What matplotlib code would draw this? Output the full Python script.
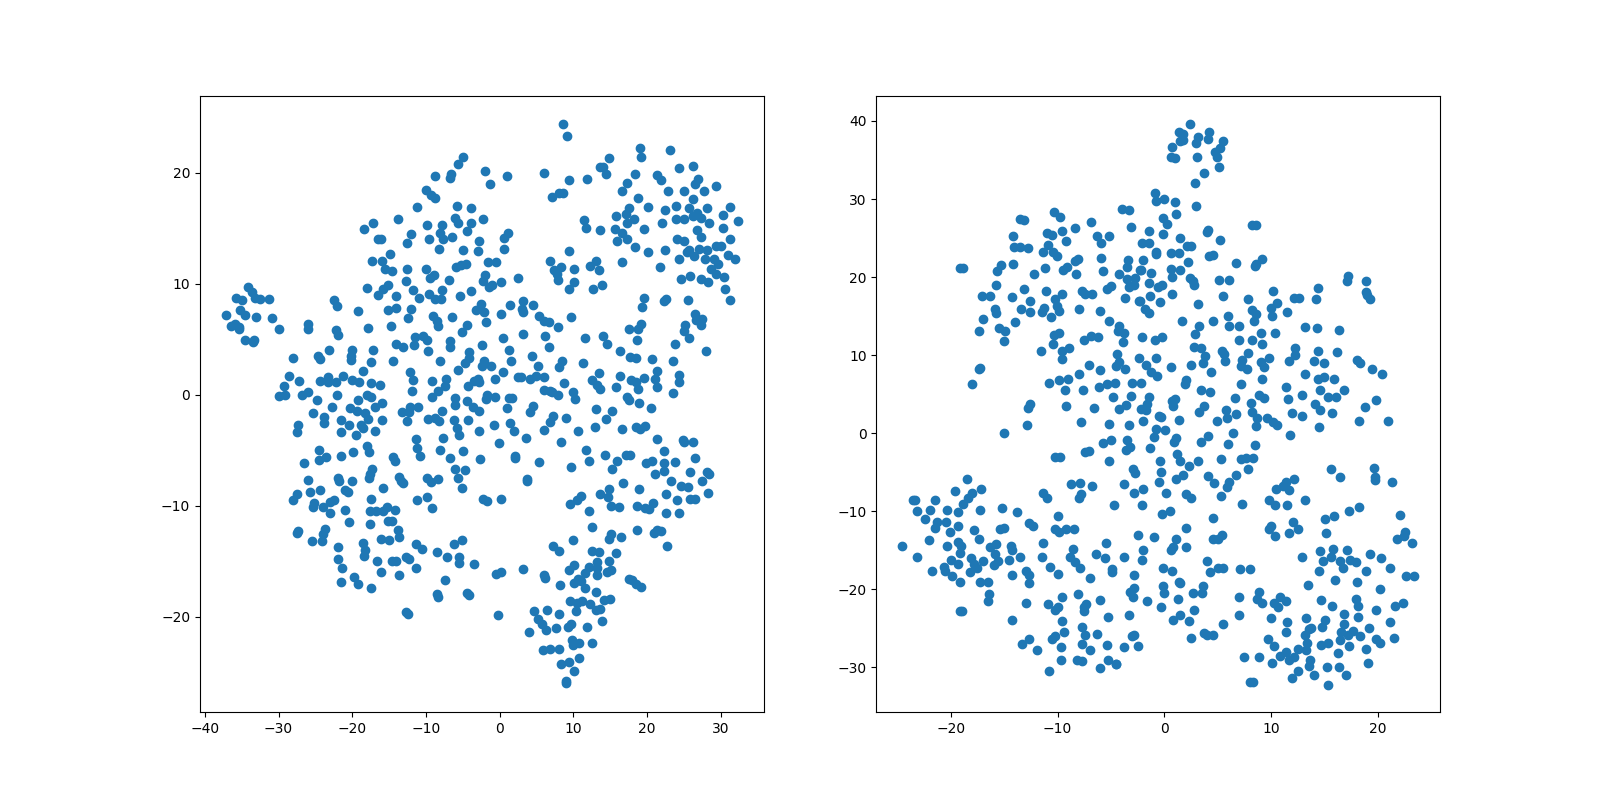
import numpy as np
import matplotlib
matplotlib.use('Agg')
import matplotlib.pyplot as plt

# values, (x, y) in data units
left_upper = [
(-5.0,21.4),(-5.6,20.8),(-8.8,19.7),(-6.6,19.9),(-6.7,19.5),(-10.0,18.4),(-9.3,18.0),(-8.8,17.7),(-11.2,16.9),(-5.8,17.0),
(-3.9,16.8),(-13.8,15.8),(-17.2,15.5),(-18.4,14.9),(-9.9,15.3),(-7.8,15.3),(-6.1,15.9),(-5.6,15.5),(-3.9,15.5),(-4.4,14.7),
(-8.1,14.6),(-12.0,14.5),(-6.5,14.2),(-9.6,14.0),(-7.7,14.0),(-16.5,14.0),(-16.1,14.0),(-12.6,13.7),(-8.2,13.1),(-5.0,13.0),
(-14.9,12.7),(-17.3,12.0),(-16.0,12.0),(-5.9,11.5),(-5.2,11.7),(-4.6,11.8),(-12.6,11.3),(-10.0,11.3),(-15.5,11.3),(-14.6,11.1),
(-8.9,10.8),(-9.4,10.5),(-6.9,10.3),(-12.7,10.2),(-15.1,9.9),(-15.8,9.5),(-18.0,9.6),(-11.7,9.4),(-7.8,9.4),(-9.6,9.1),
(-3.9,9.3),(-5.4,8.9),(-16.5,9.0),(-14.0,8.9),(-10.9,8.7),(-8.8,8.6),(-8.0,8.6),(-34.2,9.7),(-33.6,9.2),(-35.7,8.7),
(-34.9,8.5),(-33.2,8.7),(-32.5,8.6),(-31.3,8.6),(-35.2,7.6),(-34.6,7.2),(-37.1,7.2),(-33.0,7.0),(-30.9,6.9),(-36.4,6.2),
(-35.9,6.4),(-35.3,6.1),(-35.3,5.9),(-30.0,5.9),(-34.6,4.9),(-33.3,4.9),(-33.4,4.7),(-22.5,8.5),(-22.0,8.0),(-19.2,7.5),
(-15.1,7.6),(-14.0,7.8),(-12.0,7.7),(-12.4,6.9),(-9.0,7.1),(-6.5,7.0),(-3.2,7.6),(-8.5,6.6),(-8.4,6.2),(-4.4,6.3),
(-14.7,6.2),(-26.0,6.4),(-26.0,5.9),(-17.8,6.0),(-22.2,5.8),(-21.9,5.4),(-5.1,5.6),(-11.5,5.2),(-10.4,5.3),(-9.9,4.9),
(-11.6,4.5),(-14.0,4.6),(-13.1,4.3),(-6.7,4.8),(-6.7,4.3),(-9.7,3.9),(-23.1,4.0),(-24.6,3.5),(-24.4,3.2),(-28.0,3.3),
(-20.1,4.0),(-17.2,4.0),(-20.2,3.5),(-20.2,3.1),(-4.2,3.8),(-4.2,3.3),(-14.5,3.0),(-8.1,3.0),(-17.4,2.9),(-4.7,2.8),
(-5.7,2.2),(-12.2,2.0),(-18.5,2.1),(-28.6,1.7),(-21.2,1.7),(-23.3,1.6),(-7.3,1.4),(-11.7,1.3),(-27.2,1.2),(-24.4,1.2),
(-23.3,1.1),(-22.2,1.1),(-20.0,1.3),(-19.1,1.1),(-17.4,1.0),(-16.2,0.9),(-9.2,1.2),(-29.2,0.8),(-4.3,0.8),(-7.4,0.8),(-3.5,1.2),
(8.6,24.4),(9.1,23.3),(-2.0,20.1),(1.0,19.7),(-1.3,19.0),(6.0,20.0),(9.4,19.3),(11.8,19.4),(7.1,17.8),(8.0,18.2),
(8.6,18.2),(14.8,21.3),(13.6,20.5),(14.0,20.5),(14.4,19.9),(19.0,22.2),(19.1,21.4),(23.1,22.0),(24.3,20.4),(26.2,20.6),
(18.3,19.9),(17.2,19.1),(16.6,18.3),(21.3,19.8),(21.9,19.3),(22.8,18.3),(25.0,18.3),(26.9,19.4),(26.5,19.0),(27.7,18.3),
(29.4,18.8),(18.7,17.7),(20.1,16.9),(26.2,17.6),(23.9,17.0),(22.4,16.6),(28.1,16.8),(31.2,16.9),(25.7,16.8),(17.5,16.8),
(15.8,16.1),(17.1,16.3),(30.3,16.2),(32.3,15.6),(26.2,16.1),(26.7,16.4),(27.3,15.9),(28.4,15.5),(23.9,15.8),(25.0,15.8),
(22.0,15.5),(18.2,15.8),(17.2,15.5),(-2.3,15.8),(11.4,15.7),(11.7,15.0),(13.6,14.8),(15.6,14.9),(16.6,14.6),(19.6,14.9),
(30.3,15.0),(26.7,14.8),(27.3,14.2),(31.3,14.0),(24.0,14.0),(25.0,13.8),(1.1,14.6),(0.6,14.1),(-2.8,13.8),(-2.9,12.9),
(0.6,13.1),(15.9,13.8),(17.2,14.0),(18.3,13.3),(20.1,12.8),(22.4,13.0),(9.4,12.9),(6.8,12.0),(-1.6,11.9),(-0.5,11.9),
(16.6,11.9),(25.7,13.0),(25.4,12.8),(26.3,12.5),(27.1,13.1),(28.1,13.0),(29.3,13.4),(30.0,13.4),(31.0,12.6),(31.9,12.2),
(24.3,12.2),(27.8,12.2),(29.0,12.2),(29.6,11.8),(28.6,11.3),(29.3,10.9),(30.4,10.6),(25.8,10.7),(24.6,10.4),(27.3,10.4),
(28.2,10.1),(30.5,9.5),(31.3,8.5),(21.7,11.5),(13.0,12.0),(12.2,11.6),(13.5,11.2),(8.3,11.5),(7.4,11.2),(7.8,10.9),
(10.1,11.3),(7.9,10.3),(10.1,10.1),(9.4,9.5),(12.6,9.5),(13.9,9.9),(-2.0,10.8),(-2.3,10.2),(-1.0,9.9),(-1.5,9.7),
(0.2,10.1),(2.5,10.5),(-2.5,8.2),(1.4,8.1),(3.2,8.4),(4.5,8.1),(-2.1,7.4),(0.2,7.3),(3.0,7.7),(3.2,7.4),
(5.3,7.1),(-1.9,6.5),(6.0,6.6),(6.7,6.5),(7.9,6.1),(9.7,7.0),(19.6,8.7),(22.5,8.6),(22.3,8.4),(19.3,7.9),
(25.5,8.5),(26.5,7.3),(27.4,6.8),(26.6,6.7),(27.3,6.3),(25.2,6.3),(19.1,6.4),(17.5,5.9),(18.7,5.9),(25.0,5.7),
(25.7,5.1),(3.2,5.5),(6.1,5.3),(0.4,5.1),(11.6,5.1),(14.0,5.3),(14.5,4.6),(18.6,4.9),(23.8,4.6),(-2.4,4.5),
(6.7,4.3),(1.3,4.0),(16.3,3.9),(28.0,3.9),(4.4,3.5),(17.7,3.4),(18.5,3.3),(20.6,3.2),(-2.1,3.0),(1.5,3.0),
(8.4,3.0),(23.5,3.0),(11.3,2.8),(-2.4,2.6),(-1.2,2.6),(5.2,2.6),(8.0,2.5),(13.5,1.9),(0.4,2.0),(21.3,2.1),
(24.3,1.8),(2.5,1.6),(2.9,1.6),(4.9,1.7),(6.0,1.6),(4.1,1.4),(16.3,1.7),(21.0,1.4),(19.6,1.5),(-0.6,1.4),
(12.5,1.3),(17.8,1.3),(-3.0,1.4),(-2.8,1.1),(8.7,1.0),(18.5,1.1),(24.3,1.1),(13.2,0.9),(15.8,0.7),(21.4,0.7),
(13.6,0.5),(18.7,0.5),(6.0,0.4),(6.8,0.3),
]
left_lower = [
(-30.0,-0.1),(-29.1,0.0),(-26.8,0.0),(-26.0,0.2),(-22.0,0.0),(-18.0,0.0),(-17.4,-0.2),(-11.9,0.3),(-9.2,-0.2),(-8.4,0.3),
(-6.1,-0.3),(-6.1,-0.9),(-4.4,-0.6),(-3.6,-1.1),(-24.8,-0.5),(-19.2,-0.5),(-16.0,-0.8),(-16.9,-1.1),(-22.7,-1.1),(-20.3,-1.2),
(-19.3,-1.5),(-18.3,-1.7),(-25.3,-1.7),(-23.8,-2.0),(-23.8,-2.6),(-27.3,-2.7),(-27.5,-3.4),(-21.5,-2.3),(-20.4,-2.7),(-17.8,-2.2),
(-16.0,-2.3),(-18.8,-2.7),(-18.5,-3.0),(-21.5,-3.4),(-19.5,-3.6),(-16.9,-3.3),(-13.2,-1.6),(-12.2,-1.1),(-12.3,-1.6),(-11.1,-1.1),
(-12.6,-2.4),(-9.7,-2.2),(-8.8,-2.1),(-8.2,-2.4),(-7.8,-1.5),(-6.2,-2.3),(-4.3,-2.3),(-5.8,-3.0),(-5.5,-3.6),(-11.3,-4.0),
(-11.2,-4.8),(-10.8,-5.5),(-7.7,-3.9),(-8.1,-5.0),(-5.0,-5.1),(-6.7,-5.7),(-18.0,-4.6),(-17.7,-5.2),(-24.5,-5.0),(-23.5,-5.6),
(-24.5,-5.9),(-21.5,-5.5),(-19.9,-5.2),(-26.5,-6.2),(-14.5,-5.6),(-14.2,-6.0),(-17.3,-6.7),(-6.1,-6.7),(-4.7,-6.8),(-17.6,-7.2),
(-17.7,-7.5),(-5.6,-7.5),(-13.6,-7.4),(-13.4,-7.8),(-13.1,-8.0),(-9.9,-7.5),(-9.3,-7.9),(-8.4,-7.6),(-26.0,-7.7),(-21.9,-7.5),
(-21.8,-7.8),(-20.0,-7.8),(-15.8,-8.4),(-5.1,-8.4),(-24.4,-8.6),(-25.7,-8.8),(-21.0,-8.6),(-20.6,-8.8),(-27.5,-9.0),(-28.0,-9.5),
(-17.4,-9.4),(-9.9,-9.2),(-11.2,-9.5),(-22.5,-9.5),(-23.0,-9.7),(-25.2,-9.8),(-25.3,-10.1),(-23.9,-10.1),(-9.2,-10.2),(-21.0,-10.4),
(-23.0,-10.7),(-17.6,-10.5),(-16.8,-10.5),(-15.8,-10.5),(-15.3,-10.1),(-14.2,-10.4),(-15.1,-11.4),(-14.6,-11.4),(-20.4,-11.5),(-17.6,-11.7),
(-13.8,-12.2),(-13.6,-12.8),(-27.3,-12.3),(-27.5,-12.5),(-23.7,-12.1),(-23.9,-12.6),(-24.1,-13.2),(-25.4,-13.2),(-16.1,-13.0),(-15.0,-13.1),
(-5.1,-13.1),(-6.2,-13.5),(-11.3,-13.5),(-10.5,-13.9),(-18.5,-13.4),(-21.9,-13.7),(-18.3,-14.0),(-18.4,-14.5),(-8.5,-14.2),(-7.1,-14.6),
(-5.5,-14.6),(-5.5,-15.2),(-12.7,-14.6),(-12.3,-14.8),(-21.9,-14.8),(-14.6,-15.0),(-14.1,-15.0),(-16.6,-15.0),(-3.5,-15.3),(-21.4,-15.6),
(-11.3,-15.6),(-16.1,-16.0),(-13.6,-16.3),(-19.7,-16.4),(-7.4,-16.7),(-21.5,-16.9),(-19.2,-17.1),(-17.4,-17.4),(-8.5,-18.0),(-8.4,-18.2),
(-4.4,-17.9),(-4.2,-18.1),(-12.7,-19.6),(-12.4,-19.8),
(-1.7,0.0),(-1.9,-0.4),(-0.6,-0.2),(1.3,-0.3),(1.7,-0.3),(7.1,0.2),(7.9,0.0),(9.9,0.2),(10.2,-0.4),(23.5,0.1),
(17.2,-0.2),(17.5,-0.5),(18.9,-0.8),(20.5,-1.2),(-2.8,-1.5),(4.5,-1.0),(4.1,-1.6),(1.0,-1.2),(7.2,-1.9),(6.8,-2.5),
(9.0,-2.1),(13.0,-1.3),(15.3,-1.5),(14.4,-2.2),(12.9,-2.9),(16.6,-3.1),(18.5,-2.9),(19.7,-2.8),(19.0,-3.1),(-0.8,-2.7),
(1.4,-2.6),(1.9,-3.3),(-2.8,-3.3),(6.0,-3.2),(10.6,-3.3),(3.6,-3.9),(-0.1,-4.4),(8.3,-4.3),(21.4,-4.0),(24.8,-4.1),
(25.0,-4.3),(26.2,-4.3),(11.7,-5.0),(22.3,-5.1),(14.3,-5.4),(17.1,-5.4),(17.7,-5.4),(2.1,-5.5),(2.1,-5.7),(-2.7,-5.8),
(5.3,-6.1),(12.1,-6.0),(15.9,-6.0),(20.6,-6.0),(19.8,-6.2),(22.3,-6.2),(23.8,-6.1),(26.5,-5.7),(9.7,-6.5),(15.3,-6.7),
(22.3,-6.9),(21.0,-7.2),(25.8,-7.0),(28.1,-7.0),(28.4,-7.2),(3.7,-7.6),(3.7,-7.8),(23.2,-7.8),(27.4,-7.8),(16.7,-8.0),
(24.6,-8.2),(25.5,-8.3),(14.8,-8.5),(18.9,-8.5),(22.5,-9.0),(28.2,-8.9),(11.0,-9.1),(13.6,-9.0),(14.7,-9.2),(10.5,-9.5),
(-2.3,-9.4),(-1.7,-9.6),(0.2,-9.4),(24.0,-9.5),(25.8,-9.4),(26.5,-9.4),(9.5,-9.9),(15.1,-10.0),(16.2,-10.1),(18.6,-10.0),
(20.8,-9.8),(19.7,-10.2),(20.2,-10.3),(12.1,-10.5),(22.5,-10.7),(24.3,-10.7),(12.5,-11.9),(18.6,-12.2),(21.4,-12.2),(21.9,-12.3),
(20.9,-12.5),(15.1,-12.6),(14.8,-13.0),(16.4,-12.8),(9.9,-13.1),(7.2,-13.6),(8.0,-14.1),(22.7,-13.6),(12.5,-14.1),(13.5,-14.2),
(15.8,-14.3),(14.8,-15.0),(13.2,-15.1),(12.1,-15.5),(10.1,-15.4),(9.4,-15.8),(13.2,-15.6),(0.2,-16.0),(-0.5,-16.2),(3.2,-15.7),
(6.0,-16.3),(6.1,-16.5),(8.2,-17.2),(11.6,-16.1),(15.1,-15.8),(14.5,-16.0),(13.2,-16.3),(10.6,-16.6),(10.1,-17.0),(11.0,-16.8),
(11.6,-17.4),(17.5,-16.6),(17.9,-16.7),(18.5,-17.1),(19.1,-17.3),(13.0,-17.8),(14.1,-18.5),(14.9,-18.4),(9.5,-18.6),(11.2,-18.6),
(10.5,-18.8),(12.2,-18.9),(13.6,-19.3),(13.0,-19.4),(10.3,-19.5),(-0.2,-19.9),(4.6,-19.5),(6.4,-19.4),(8.0,-19.8),(5.2,-20.2),
(13.9,-20.4),(5.7,-20.7),(6.3,-21.2),(7.6,-21.0),(9.3,-20.9),(9.7,-20.7),(11.8,-20.9),(4.0,-21.4),(9.8,-22.1),(10.7,-22.4),
(9.9,-22.6),(12.5,-22.4),(5.9,-23.0),(6.8,-22.9),(8.0,-22.9),(10.7,-23.7),(9.4,-24.1),(8.3,-24.3),(10.1,-24.9),(9.0,-25.8),(9.0,-26.0),
]
right_upper = [
(-10.3,28.3),(-9.8,27.7),(-13.5,27.4),(-13.2,27.3),(-6.9,27.0),(-4.0,28.7),(-3.3,28.6),(-3.1,26.4),(-8.4,26.3),(-9.6,25.9),
(-11.0,25.6),(-10.5,25.4),(-14.2,25.3),(-6.3,25.3),(-5.2,25.3),(-9.2,24.6),(-5.9,24.4),(-10.9,24.1),(-14.1,23.8),(-13.5,23.8),
(-12.8,23.7),(-11.4,23.2),(-10.4,23.2),(-10.1,22.7),(-5.9,22.4),(-8.1,22.3),(-8.4,22.1),(-3.4,22.2),(-14.2,21.7),(-15.3,21.5),
(-3.5,21.3),(-9.1,21.3),(-9.5,20.9),(-11.2,21.2),(-15.7,20.8),(-19.2,21.2),(-18.9,21.2),(-5.7,20.8),(-12.2,20.4),(-8.3,20.4),
(-4.2,20.4),(-2.3,20.9),(-3.5,19.7),(-2.7,19.9),(-15.8,19.0),(-3.3,18.7),(-2.8,19.0),(-5.0,18.8),(-5.4,18.5),(-13.2,18.5),
(-11.1,18.2),(-7.7,18.2),(-7.4,17.9),(-6.8,17.8),(-9.6,17.8),(-17.1,17.6),(-16.3,17.6),(-14.3,17.4),(-3.7,17.3),(-2.4,17.0),
(-10.2,17.2),(-12.6,17.0),(-10.1,16.3),(-11.3,16.0),(-15.9,15.9),(-13.4,15.9),(-8.0,15.9),(-15.8,15.4),(-11.5,15.5),(-12.6,15.5),
(-9.9,15.6),(-6.0,15.6),(-10.6,14.9),(-17.0,14.7),(-14.0,14.2),(-5.2,14.4),(-4.2,13.8),(-15.5,13.5),(-14.9,13.1),(-17.4,13.1),
(-4.3,13.1),(-3.8,12.8),(-9.9,12.8),(-10.3,12.6),(-6.9,12.4),(-6.2,12.3),(-7.5,11.9),(-15.0,11.8),(-3.9,11.7),(-10.4,11.4),
(-8.9,10.9),(-9.6,10.5),(-11.6,10.6),(-4.4,10.1),(-9.6,9.5),(-7.1,8.8),(-4.2,9.1),(-4.5,8.6),(-2.4,9.6),(-3.7,8.2),
(-6.0,8.1),(-17.4,8.2),(-17.3,8.3),(-8.0,7.6),(-9.0,7.0),(-9.9,6.8),(-10.8,6.4),(-4.6,6.4),(-5.4,6.3),(-3.0,6.4),
(-18.0,6.3),(-6.1,5.9),(-7.6,5.6),(-9.3,5.6),
(2.4,39.6),(1.4,38.6),(1.8,38.3),(4.2,38.6),(3.2,38.0),(4.1,37.7),(5.5,37.4),(1.8,37.6),(1.5,37.4),(3.0,37.2),
(5.2,36.5),(0.7,36.7),(4.8,36.0),(4.9,35.4),(3.1,35.4),(0.6,35.4),(1.0,35.3),(5.1,34.1),(3.7,33.3),(2.9,32.0),
(-0.9,30.8),(0.0,30.0),(-0.8,29.7),(1.0,29.6),(3.0,29.1),(1.1,28.1),(-0.1,27.6),(0.3,26.8),(-1.4,25.9),(8.2,26.7),
(8.6,26.7),(4.1,26.0),(4.0,25.8),(-0.1,25.5),(1.5,25.0),(5.2,24.7),(-2.1,24.4),(-1.4,24.4),(2.1,24.0),(2.5,24.0),
(-0.8,23.2),(-0.8,23.0),(0.6,23.1),(1.4,23.1),(4.2,22.7),(4.6,22.8),(-2.0,22.2),(2.2,22.0),(9.2,22.3),(8.6,21.7),
(8.5,21.4),(6.7,21.8),(-2.2,20.9),(0.6,21.0),(1.5,20.9),(-1.2,20.5),(0.7,20.0),(2.4,19.9),(2.7,19.5),(2.8,19.0),
(5.1,19.6),(6.1,19.6),(-1.4,19.2),(-0.2,19.0),(-0.6,18.7),(17.2,20.1),(17.1,19.5),(18.9,19.5),(18.9,18.1),(19.0,17.7),
(19.3,17.2),(14.4,18.6),(12.2,17.3),(12.6,17.3),(14.2,17.2),(10.2,18.2),(0.7,17.9),(5.5,17.6),(-1.3,17.6),(-2.3,17.0),
(-0.4,16.8),(7.9,17.2),(3.2,16.5),(10.6,16.7),(10.0,16.0),(8.2,15.8),(-1.8,15.9),(-1.4,15.4),(8.6,15.3),(11.5,15.5),
(10.1,15.0),(6.0,15.0),(1.7,14.4),(4.6,14.4),(8.4,14.4),(3.3,13.7),(6.1,13.7),(7.0,13.7),(13.2,13.6),(14.3,13.5),
(16.4,13.2),(9.1,12.9),(10.4,12.8),(2.9,12.7),(-2.1,12.3),(-0.9,12.0),(-0.2,12.3),(7.0,11.9),(8.2,12.0),(9.2,11.4),
(2.8,11.0),(3.4,10.9),(12.3,10.9),(14.4,10.6),(16.2,10.4),(5.4,10.5),(7.9,10.3),(5.6,10.1),(3.8,9.9),(12.3,10.0),
(9.8,9.6),(-0.8,9.7),(5.7,9.2),(9.1,9.1),(7.3,9.4),(11.7,9.2),(14.0,9.2),(15.0,9.0),(18.1,9.4),(18.4,9.0),
(3.6,9.0),(-1.7,8.7),(2.5,8.7),(0.6,8.5),(7.2,8.6),(9.4,8.5),(7.8,8.2),(19.5,8.2),(-1.2,7.8),(4.4,7.8),
(13.2,7.6),(20.4,7.6),(-0.7,7.3),(9.2,7.0),(15.0,7.2),(14.4,6.9),(15.9,6.9),(2.0,6.8),(1.9,6.3),(-2.2,6.4),
(7.2,6.3),(11.4,5.9),(14.6,5.6),(16.9,5.6),(3.4,5.6),(4.3,5.3),
]
right_lower = [
(-4.8,4.65),(-3.1,4.8),(-12.6,3.8),(-12.8,3.3),(-9.2,3.5),(-3.6,3.6),(-4.2,3.1),(-6.6,3.2),(-7.8,1.45),(-5.2,1.2),
(-3.3,1.1),(-12.9,1.1),(-15.0,0.0),(-3.5,-0.8),(-5.7,-1.3),(-5.0,-0.9),(-3.2,-1.7),(-3.6,-2.1),(-7.1,-2.3),(-7.4,-2.4),
(-9.8,-3.0),(-10.2,-3.1),(-5.2,-3.6),(-2.9,-4.6),(-2.7,-5.1),(-18.5,-5.9),(-8.7,-6.5),(-7.9,-6.4),(-6.8,-6.8),(-3.8,-6.5),
(-17.2,-7.2),(-19.6,-7.4),(-18.0,-7.6),(-11.4,-7.6),(-2.8,-7.6),(-7.8,-7.8),(-8.0,-8.3),(-11.0,-8.3),(-18.4,-8.3),(-18.9,-9.0),
(-23.6,-8.5),(-23.4,-8.6),(-21.5,-8.6),(-4.7,-9.2),(-22.0,-9.8),(-20.4,-9.8),(-17.3,-9.8),(-15.2,-9.6),(-23.2,-9.9),(-19.3,-10.1),
(-13.8,-10.1),(-10.0,-10.6),(-22.4,-11.0),(-21.3,-11.3),(-20.5,-11.4),(-12.7,-11.5),(-12.3,-11.9),(-21.5,-12.1),(-19.3,-11.9),(-15.4,-12.2),
(-15.0,-12.1),(-10.2,-12.3),(-9.9,-12.7),(-9.2,-12.3),(-8.5,-12.2),(-20.1,-12.6),(-17.8,-12.4),(-2.5,-13.0),(-17.4,-13.6),(-22.1,-13.7),
(-19.3,-13.9),(-24.6,-14.4),(-20.4,-14.5),(-19.1,-14.5),(-11.4,-14.1),(-5.5,-14.0),(-15.8,-14.2),(-16.3,-14.6),(-14.4,-14.4),(-14.3,-14.9),
(-8.6,-14.8),(-19.2,-15.3),(-15.9,-15.4),(-6.4,-15.4),(-23.2,-15.8),(-18.1,-16.0),(-13.5,-15.9),(-11.5,-15.9),(-8.8,-15.9),(-5.6,-16.0),
(-3.8,-15.9),(-20.0,-16.2),(-14.6,-16.2),(-15.6,-16.4),(-17.0,-16.4),(-8.4,-16.5),(-19.3,-16.7),(-17.8,-16.8),(-16.0,-16.9),(-10.7,-17.1),
(-20.7,-17.1),(-17.6,-17.2),(-7.9,-17.3),(-4.9,-17.4),(-20.6,-17.6),(-21.8,-17.7),(-18.2,-17.8),(-13.0,-17.7),(-4.9,-17.8),(-10.0,-18.0),
(-14.3,-18.1),(-12.7,-18.1),(-19.9,-18.3),(-2.8,-18.2),(-7.0,-18.5),(-17.3,-19.0),(-19.2,-19.0),(-16.5,-19.1),(-12.7,-19.2),(-2.8,-19.8),
(-3.2,-20.3),(-16.4,-20.6),(-8.1,-20.6),(-2.9,-21.0),(-9.6,-21.0),(-6.0,-21.4),(-16.5,-21.5),(-13.0,-21.7),(-10.9,-21.9),(-7.3,-21.9),
(-10.0,-22.3),(-10.2,-22.6),(-7.5,-22.3),(-7.5,-22.8),(-19.0,-22.7),(-19.2,-22.8),(-5.3,-23.5),(-3.3,-23.3),(-14.3,-23.9),(-9.6,-24.0),
(-7.7,-24.8),(-9.4,-25.5),(-7.4,-25.8),(-6.3,-25.7),(-2.8,-25.9),(-3.0,-26.0),(-10.2,-26.0),(-10.5,-26.3),(-12.7,-26.3),(-13.3,-27.0),
(-7.7,-27.0),(-5.4,-27.1),(-2.5,-27.2),(-9.7,-27.4),(-3.8,-27.4),(-7.0,-27.7),(-11.9,-27.8),(-5.3,-29.0),(-8.2,-29.0),(-7.7,-29.2),
(-9.7,-29.1),(-4.5,-29.5),(-4.5,-29.6),(-6.0,-30.1),(-10.8,-30.5),
(-1.4,4.65),(1.0,4.4),(0.7,4.1),(-1.6,3.8),(0.85,3.5),(-2.2,3.1),(-1.7,3.0),(6.6,4.5),(11.6,4.4),(8.9,4.9),
(9.4,4.5),(12.9,4.9),(15.4,4.65),(16.1,4.65),(8.1,3.9),(3.7,3.5),(3.3,2.7),(5.8,3.0),(8.2,2.7),(6.7,2.5),
(5.9,2.0),(-0.5,2.2),(-0.3,2.1),(14.1,3.75),(14.6,3.0),(15.7,2.6),(18.8,3.4),(19.9,4.3),(12.0,2.6),(12.9,2.2),
(8.7,2.0),(9.6,2.0),(-2.0,1.6),(1.4,1.7),(4.9,1.6),(10.2,1.4),(10.6,1.1),(8.6,0.9),(14.5,0.8),(18.3,1.6),
(21.0,1.6),(-0.8,0.55),(0.1,0.4),(6.4,0.0),(11.8,-0.2),(4.1,-0.35),(-1.0,-0.5),(1.1,-0.6),(0.9,-1.1),(3.4,-1.1),
(6.0,-1.4),(8.5,-1.5),(-1.3,-1.9),(1.2,-2.6),(1.5,-3.6),(-0.4,-3.6),(3.2,-3.5),(5.3,-3.3),(7.2,-3.3),(7.7,-3.2),
(8.3,-3.2),(2.35,-4.2),(7.9,-4.6),(15.6,-4.6),(19.7,-4.4),(19.8,-5.6),(19.8,-6.0),(16.5,-5.6),(21.4,-6.3),(-0.3,-5.0),
(1.8,-5.3),(1.1,-5.8),(4.1,-5.5),(6.7,-5.4),(-0.5,-6.3),(4.7,-6.4),(6.1,-6.2),(12.2,-5.8),(11.4,-6.3),(10.5,-7.1),
(11.1,-6.8),(11.7,-7.3),(5.9,-6.9),(-2.0,-7.2),(0.2,-7.6),(2.0,-7.8),(2.5,-8.3),(5.3,-8.0),(13.2,-8.5),(9.8,-8.6),
(10.4,-9.2),(11.5,-9.2),(7.3,-9.0),(-2.1,-9.2),(18.3,-9.4),(17.3,-9.9),(-0.2,-10.3),(0.5,-9.9),(22.1,-10.5),(15.9,-10.6),
(15.1,-11.0),(4.6,-10.8),(12.1,-11.4),(2.0,-12.1),(10.0,-11.9),(9.85,-12.2),(12.5,-12.3),(11.7,-12.8),(10.4,-13.2),(15.2,-12.8),
(-1.0,-13.3),(1.1,-13.5),(5.4,-13.0),(4.6,-13.5),(5.0,-13.6),(22.6,-12.7),(22.5,-13.1),(21.8,-13.5),(23.2,-14.0),(2.0,-14.6),
(0.85,-14.6),(0.6,-14.9),(-2.0,-14.9),(17.1,-14.9),(15.8,-14.8),(14.6,-15.1),(19.3,-15.4),(12.9,-15.9),(15.6,-15.8),(20.3,-16.0),
(-2.1,-16.2),(4.0,-16.3),(16.5,-16.3),(17.4,-16.2),(14.9,-16.4),(18.0,-16.5),(16.8,-17.2),(-0.1,-17.3),(0.75,-17.6),(5.0,-17.3),
(5.5,-17.3),(4.3,-17.8),(7.1,-17.4),(8.0,-17.4),(21.2,-17.3),(18.9,-17.6),(14.5,-17.7),(22.7,-18.3),(23.4,-18.3),(16.0,-18.8),(18.1,-19.0),
(1.4,-19.0),(1.5,-19.2),(13.5,-19.4),(-0.1,-19.5),(3.6,-19.5),(20.2,-20.0),(0.0,-20.5),(2.7,-20.5),(3.5,-20.4),(8.9,-20.3),
(1.3,-21.2),(7.0,-21.0),(8.7,-21.2),(10.9,-21.0),(18.0,-21.2),(-1.6,-21.5),(9.2,-21.8),(10.3,-21.7),(11.4,-21.5),(14.7,-21.4),
(22.4,-21.7),(21.6,-22.1),(18.2,-22.1),(15.7,-22.1),(-0.3,-22.3),(10.7,-22.3),(19.9,-22.6),(2.8,-22.6),(16.9,-23.1),(7.0,-23.3),
(1.5,-23.3),(18.2,-23.5),(0.85,-23.9),(2.3,-24.0),(10.0,-23.7),(13.3,-23.7),(15.1,-23.9),(11.5,-24.2),(16.9,-24.4),(21.2,-24.2),
(5.5,-24.4),(14.8,-24.8),(19.2,-24.9),(13.8,-25.0),(13.6,-25.1),(17.7,-25.3),(11.4,-25.5),(16.6,-25.5),(3.7,-25.6),(4.0,-25.8),
(4.6,-25.8),(13.2,-25.8),(17.2,-25.9),(2.5,-26.2),(18.4,-26.0),(19.9,-26.3),(21.5,-26.2),(9.7,-26.3),(16.5,-26.5),(20.2,-26.8),
(13.4,-26.9),(14.7,-27.1),(15.4,-26.8),(10.3,-27.2),(17.3,-27.3),(12.5,-27.6),(18.9,-27.6),(13.3,-27.8),(11.4,-28.0),(16.3,-28.2),
(10.9,-28.5),(7.5,-28.6),(8.9,-28.7),(12.2,-28.7),(11.7,-29.0),(13.7,-29.0),(10.1,-29.4),(19.1,-29.4),(13.6,-29.8),(15.3,-29.9),
(16.4,-29.9),(12.5,-30.4),(14.0,-31.0),(17.0,-31.0),(12.0,-31.3),(8.3,-31.8),(8.0,-31.9),(15.4,-32.2),
]

left = np.array(left_upper + left_lower)
right = np.array(right_upper + right_lower)

plt.figure(figsize=(16, 8))

plt.subplot(1, 2, 1)
plt.scatter(left[:, 0], left[:, 1])
plt.xlim(-40.65, 35.8)
plt.ylim(-28.6, 26.9)

plt.subplot(1, 2, 2)
plt.scatter(right[:, 0], right[:, 1])
plt.xlim(-27.0, 25.86)
plt.ylim(-35.7, 43.2)

plt.savefig('out.png', dpi=100)
